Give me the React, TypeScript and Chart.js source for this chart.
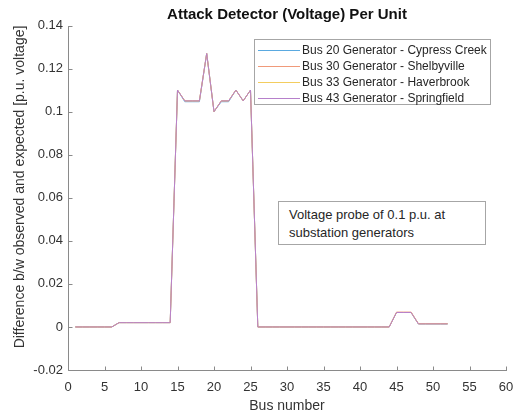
import React, { useEffect, useRef } from "react";
import { Chart, registerables } from "chart.js";

Chart.register(...registerables);

const FONT = '"Liberation Sans", Arial, Helvetica, sans-serif';

const busNumbers = [
  1, 2, 3, 4, 5, 6, 7, 8, 9, 10, 11, 12, 13, 14, 15, 16, 17, 18, 19, 20, 21, 22, 23, 24, 25, 26,
  27, 28, 29, 30, 31, 32, 33, 34, 35, 36, 37, 38, 39, 40, 41, 42, 43, 44, 45, 46, 47, 48, 49, 50, 51, 52,
];

const bus20CypressCreek = [
  0, 0, 0, 0, 0, 0, 0.002, 0.002, 0.002, 0.002, 0.002, 0.002, 0.002, 0.002, 0.11, 0.1046, 0.1046, 0.1046,
  0.127, 0.1, 0.1046, 0.1046, 0.11, 0.105, 0.11, 0, 0, 0, 0, 0, 0, 0, 0, 0, 0, 0, 0, 0, 0, 0, 0, 0, 0, 0,
  0.0067, 0.0067, 0.0067, 0.0014, 0.0014, 0.0014, 0.0014, 0.0014,
];
const bus30Shelbyville = [
  0, 0, 0, 0, 0, 0, 0.002, 0.002, 0.002, 0.002, 0.002, 0.002, 0.002, 0.002, 0.11, 0.105, 0.105, 0.105,
  0.127, 0.1, 0.105, 0.105, 0.11, 0.105, 0.11, 0, 0, 0, 0, 0, 0, 0, 0, 0, 0, 0, 0, 0, 0, 0, 0, 0, 0, 0,
  0.0069, 0.0069, 0.0069, 0.0016, 0.0016, 0.0016, 0.0016, 0.0016,
];
const bus33Haverbrook = [
  0, 0, 0, 0, 0, 0, 0.002, 0.002, 0.002, 0.002, 0.002, 0.002, 0.002, 0.002, 0.11, 0.105, 0.105, 0.105,
  0.127, 0.1, 0.105, 0.105, 0.11, 0.105, 0.11, 0, 0, 0, 0, 0, 0, 0, 0, 0, 0, 0, 0, 0, 0, 0, 0, 0, 0, 0,
  0.0067, 0.0067, 0.0067, 0.0014, 0.0014, 0.0014, 0.0014, 0.0014,
];
const bus43Springfield = [
  0, 0, 0, 0, 0, 0, 0.002, 0.002, 0.002, 0.002, 0.002, 0.002, 0.002, 0.002, 0.11, 0.105, 0.105, 0.105,
  0.127, 0.1, 0.105, 0.105, 0.11, 0.105, 0.11, 0, 0, 0, 0, 0, 0, 0, 0, 0, 0, 0, 0, 0, 0, 0, 0, 0, 0, 0,
  0.0067, 0.0067, 0.0067, 0.0014, 0.0014, 0.0014, 0.0014, 0.0014,
];

const seriesLabels = [
  "Bus 20 Generator - Cypress Creek",
  "Bus 30 Generator - Shelbyville",
  "Bus 33 Generator - Haverbrook",
  "Bus 43 Generator - Springfield",
];
const seriesValues = [bus20CypressCreek, bus30Shelbyville, bus33Haverbrook, bus43Springfield];
const seriesColors = ["#5aa9e0", "#f09a7a", "#f3cd5e", "#b680cb"];

const xTicks = [0, 5, 10, 15, 20, 25, 30, 35, 40, 45, 50, 55, 60];
const yTicks = [-0.02, 0, 0.02, 0.04, 0.06, 0.08, 0.1, 0.12, 0.14];

const titleText = "Attack Detector (Voltage) Per Unit";
const xTitle = "Bus number";
const yTitle = "Difference b/w observed and expected [p.u. voltage]";
const noteLines = ["Voltage probe of 0.1 p.u. at", "substation generators"];

const axisColor = "#8a8a8a";
const textColor = "#333333";

const axesPlugin = {
  id: "matlabAxes",
  afterDatasetsDraw(chart: any) {
    const { ctx, chartArea, scales } = chart;
    const x = scales.x;
    const y = scales.y;
    ctx.save();
    ctx.strokeStyle = axisColor;
    ctx.lineWidth = 1;
    ctx.beginPath();
    const left = Math.round(chartArea.left) + 0.5;
    const bottom = Math.round(chartArea.bottom) + 0.5;
    ctx.moveTo(left, Math.round(chartArea.top));
    ctx.lineTo(left, bottom);
    ctx.lineTo(Math.round(chartArea.right) + 1, bottom);
    for (const v of xTicks) {
      const px = Math.round(x.getPixelForValue(v)) + 0.5;
      ctx.moveTo(px, bottom);
      ctx.lineTo(px, bottom - 4);
    }
    for (const v of yTicks) {
      const py = Math.round(y.getPixelForValue(v)) + 0.5;
      ctx.moveTo(left, py);
      ctx.lineTo(left + 4, py);
    }
    ctx.stroke();
    // y axis title, centred like the reference
    ctx.translate(20, 187);
    ctx.rotate(-Math.PI / 2);
    ctx.fillStyle = textColor;
    ctx.font = `14px ${FONT}`;
    ctx.textAlign = "center";
    ctx.textBaseline = "middle";
    ctx.fillText(yTitle, 0, 0);
    ctx.restore();
  },
};

export default function App() {
  const canvasRef = useRef<HTMLCanvasElement | null>(null);

  useEffect(() => {
    document.body.style.margin = "0";
    const canvas = canvasRef.current;
    if (!canvas) return;
    const datasets = seriesValues.map((vals, i) => ({
      label: seriesLabels[i],
      data: busNumbers.map((b, j) => ({ x: b, y: vals[j] })),
      borderColor: seriesColors[i],
      backgroundColor: seriesColors[i],
      borderWidth: 1,
      pointRadius: 0,
      tension: 0,
      fill: false,
      order: seriesValues.length - 1 - i,
    }));
    const chart = new Chart(canvas, {
      type: "line",
      data: { datasets },
      plugins: [axesPlugin],
      options: {
        animation: false,
        responsive: false,
        devicePixelRatio: 1,
        layout: { padding: { left: 0, right: 8, top: 0, bottom: 0 } },
        plugins: {
          legend: { display: false },
          tooltip: { enabled: false },
          title: {
            display: true,
            text: titleText,
            fullSize: false,
            color: "#111111",
            font: { family: FONT, size: 15, weight: "bold", lineHeight: 1.2 },
            padding: { top: 6, bottom: 1.5 },
          },
        },
        scales: {
          x: {
            type: "linear",
            min: 0,
            max: 60,
            afterFit: (s: any) => {
              s.height = 47;
              s.paddingLeft = 0;
              s.paddingRight = 0;
            },
            afterBuildTicks: (s: any) => {
              s.ticks = xTicks.map((v) => ({ value: v }));
            },
            grid: { display: false, drawTicks: false },
            border: { display: false },
            ticks: {
              padding: 10,
              color: textColor,
              font: { family: FONT, size: 13 },
              maxRotation: 0,
              autoSkip: false,
              callback: (v: any) => String(v),
            },
            title: {
              display: true,
              text: xTitle,
              color: textColor,
              font: { family: FONT, size: 14, lineHeight: 1.2 },
              padding: { top: 0, bottom: 2 },
            },
          },
          y: {
            type: "linear",
            min: -0.02,
            max: 0.14,
            afterFit: (s: any) => {
              s.width = 68;
              s.paddingTop = 0;
              s.paddingBottom = 0;
            },
            afterBuildTicks: (s: any) => {
              s.ticks = yTicks.map((v) => ({ value: v }));
            },
            grid: { display: false, drawTicks: false },
            border: { display: false },
            ticks: {
              padding: 5,
              color: textColor,
              font: { family: FONT, size: 13 },
              autoSkip: false,
              callback: (v: any) => String(Number(Number(v).toFixed(2))),
            },
          },
        },
      },
    });
    return () => chart.destroy();
  }, []);

  return (
    <div style={{ position: "relative", width: 514, height: 417, background: "#ffffff", fontFamily: FONT }}>
      <canvas ref={canvasRef} width={514} height={417} style={{ position: "absolute", left: 0, top: 0 }} />
      <div
        style={{
          position: "absolute",
          left: 254,
          top: 39,
          width: 237,
          height: 66,
          border: "1px solid #a6a6a6",
          background: "#ffffff",
          boxSizing: "border-box",
        }}
      >
        {seriesLabels.map((lab, i) => (
          <div
            key={lab}
            style={{ position: "absolute", left: 0, top: 2 + i * 16, height: 16, width: 236, display: "flex", alignItems: "center" }}
          >
            <div style={{ marginLeft: 3, width: 42, height: 1, background: seriesColors[i] }} />
            <span style={{ marginLeft: 2, fontSize: 12, color: "#262626", whiteSpace: "nowrap" }}>{lab}</span>
          </div>
        ))}
      </div>
      <div
        style={{
          position: "absolute",
          left: 278,
          top: 201,
          width: 208,
          height: 44,
          border: "1px solid #a6a6a6",
          background: "#ffffff",
          boxSizing: "border-box",
          padding: "4px 0 0 10px",
          fontSize: 13,
          lineHeight: "17.5px",
          color: "#262626",
        }}
      >
        {noteLines.map((l) => (
          <div key={l} style={{ whiteSpace: "nowrap" }}>
            {l}
          </div>
        ))}
      </div>
    </div>
  );
}
